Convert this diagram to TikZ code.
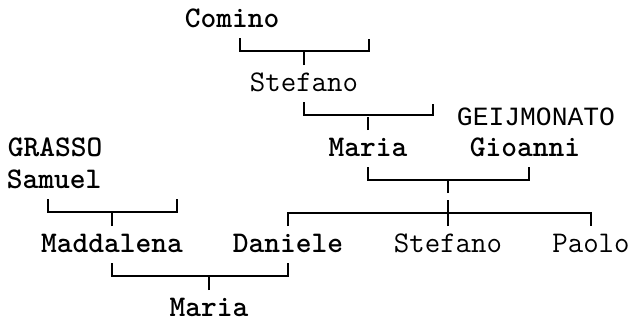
\documentclass[tikz,border=0pt]{standalone}
\usepackage{fontspec}
\newfontfamily\capsmono{Liberation Mono}
\usepackage{tikz}

\begin{document}
\begin{tikzpicture}[x=0.75pt,y=-0.75pt,line width=1.2pt,
    person/.style={font=\fontsize{22.5}{27}\ttfamily,inner sep=0pt,outer sep=0pt,
                   outer ysep=6pt,text height=13.5pt,text depth=2.25pt,anchor=base},
    heavy/.style={person,font=\fontsize{22.5}{27}\ttfamily\bfseries}]
\useasboundingbox (0,0) rectangle (634,322);

\node[heavy]  (comino)    at (232,27)  {Comino};
\node[person] (stefanoA)  at (304,91)  {Stefano};
\node[person,font=\fontsize{19.75}{24}\capsmono] (geij) at (536,125) {GEIJMONATO};
\node[heavy]  (grasso)    at (55,156)  {GRASSO};
\node[heavy]  (mariaA)    at (368,156) {Maria};
\node[heavy]  (gioanni)   at (525,156) {Gioanni};
\node[heavy]  (samuel)    at (54,188)  {Samuel};
\node[heavy]  (maddalena) at (112,252) {Maddalena};
\node[heavy]  (daniele)   at (288,252) {Daniele};
\node[person] (stefanoB)  at (448,252) {Stefano};
\node[person] (paolo)     at (591,252) {Paolo};
\node[heavy]  (mariaB)    at (209,316) {Maria};

% free ends of the lines
\coordinate (cominoR)  at (369,39);
\coordinate (stefanoR) at (433,104);
\coordinate (samuelR)  at (177,199);

\draw ([xshift=6pt]comino.south) -- ++(0,13) -| (cominoR);
\draw (stefanoA.north) -- ++(0,-13);

\draw (stefanoA.south) -- ++(0,13) -| (stefanoR);
\draw (mariaA.north) -- ++(0,-13);

\draw (mariaA.south) -- ++(0,13) -| ([xshift=3pt]gioanni.south);
\draw (stefanoB.north) -- ++(0,-26) ++(0,-7) -- ++(0,-14);
\draw (daniele.north) -- ++(0,-13) -| (paolo.north);

\draw ([xshift=-4.5pt]samuel.south) -- ++(0,13) -| (samuelR);
\draw (maddalena.north) -- ++(0,-13);

\draw (maddalena.south) -- ++(0,13) -| (daniele.south);
\draw (mariaB.north) -- ++(0,-13);
\end{tikzpicture}
\end{document}
